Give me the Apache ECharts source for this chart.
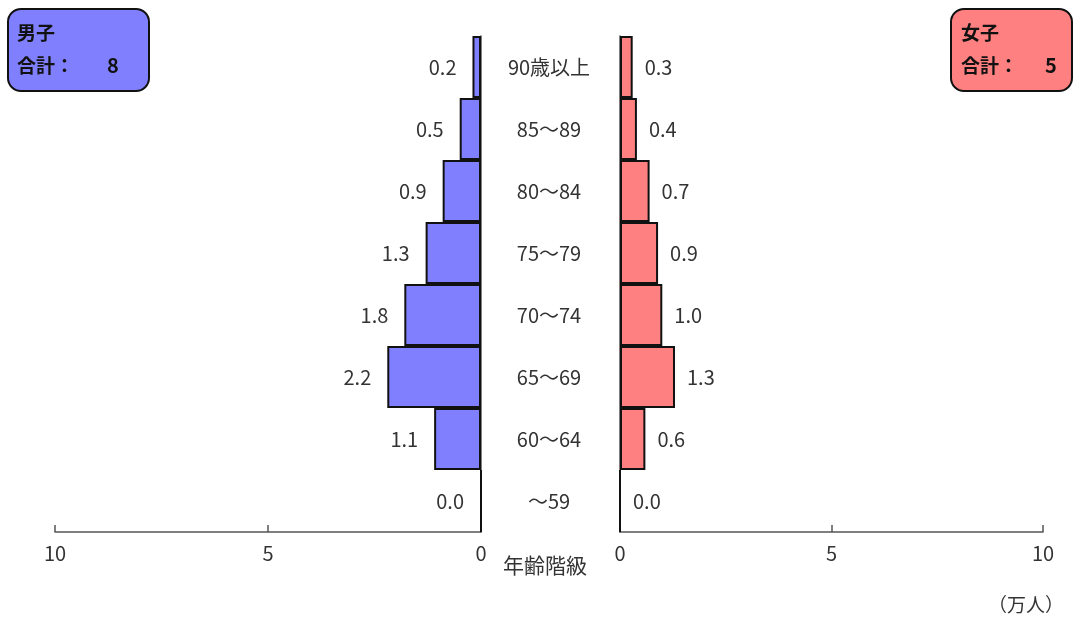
<!DOCTYPE html>
<html>
<head>
<meta charset="utf-8">
<script src="https://cdn.jsdelivr.net/npm/echarts@6/dist/echarts.min.js"></script>
<style>html,body{margin:0;padding:0;background:#fff}#c{width:1083px;height:618px}</style>
</head>
<body>
<div id="c"></div>
<script>
const categories = ['～59','60～64','65～69','70～74','75～79','80～84','85～89','90歳以上'];
const maleValues = [0.0, 1.1, 2.2, 1.8, 1.3, 0.9, 0.5, 0.2];
const femaleValues = [0.0, 0.6, 1.3, 1.0, 0.9, 0.7, 0.4, 0.3];
const xTicks = [0, 5, 10];
const maleTotal = 8;
const femaleTotal = 5;

const FONT = '"Noto Sans CJK JP", "Noto Sans", sans-serif';
const chart = echarts.init(document.getElementById('c'));

const xAxisCommon = {
  type: 'value', min: xTicks[0], max: xTicks[xTicks.length-1], interval: xTicks[1]-xTicks[0],
  splitLine: {show: false},
  axisLine: {show: true, lineStyle: {color: '#555', width: 1.5}},
  axisTick: {show: true, inside: true, length: 7, lineStyle: {color: '#555', width: 1.5}},
  axisLabel: {color: '#333', fontSize: 20, fontFamily: FONT, margin: 11}
};

chart.setOption({
  animation: false,
  grid: [
    {left: 55, right: 602, top: 36, bottom: 86},
    {left: 620, right: 40, top: 36, bottom: 86}
  ],
  xAxis: [
    Object.assign({gridIndex: 0, inverse: true}, xAxisCommon),
    Object.assign({gridIndex: 1}, xAxisCommon)
  ],
  yAxis: [
    {type: 'category', gridIndex: 0, data: categories, position: 'right',
     axisLine: {show: true, lineStyle: {color: '#555', width: 1.5}},
     axisTick: {show: false},
     axisLabel: {show: true, align: 'center', margin: 68, color: '#333', fontSize: 20, fontFamily: FONT}},
    {type: 'category', gridIndex: 1, data: categories, position: 'left',
     axisLine: {show: true, lineStyle: {color: '#555', width: 1.5}},
     axisTick: {show: false}, axisLabel: {show: false}}
  ],
  series: [
    {type: 'bar', xAxisIndex: 0, yAxisIndex: 0, data: maleValues, barCategoryGap: '0%',
     itemStyle: {color: '#8080FF', borderColor: '#111', borderWidth: 2},
     label: {show: true, position: 'left', distance: 16, color: '#333', fontSize: 20, fontFamily: FONT,
             formatter: p => p.value.toFixed(1)}},
    {type: 'bar', xAxisIndex: 1, yAxisIndex: 1, data: femaleValues, barCategoryGap: '0%',
     itemStyle: {color: '#FF8080', borderColor: '#111', borderWidth: 2},
     label: {show: true, position: 'right', distance: 12, color: '#333', fontSize: 20, fontFamily: FONT,
             formatter: p => p.value.toFixed(1)}}
  ],
  graphic: [
    {type: 'rect', shape: {x: 8, y: 9, width: 141, height: 82, r: 13},
     style: {fill: '#8080FF', stroke: '#111', lineWidth: 2}},
    {type: 'text', left: 17, top: 23, style: {text: '男子', font: 'bold 19px ' + FONT, fill: '#111'}},
    {type: 'text', left: 17, top: 56, style: {text: '合計：', font: 'bold 19px ' + FONT, fill: '#111'}},
    {type: 'text', left: 107, top: 55, style: {text: String(maleTotal), font: 'bold 20px ' + FONT, fill: '#111'}},
    {type: 'rect', shape: {x: 951, y: 9, width: 121, height: 82, r: 13},
     style: {fill: '#FF8080', stroke: '#111', lineWidth: 2}},
    {type: 'text', left: 961, top: 23, style: {text: '女子', font: 'bold 19px ' + FONT, fill: '#111'}},
    {type: 'text', left: 961, top: 56, style: {text: '合計：', font: 'bold 19px ' + FONT, fill: '#111'}},
    {type: 'text', left: 1045, top: 55, style: {text: String(femaleTotal), font: 'bold 20px ' + FONT, fill: '#111'}},
    {type: 'text', left: 503, top: 555, style: {text: '年齢階級', font: '21px ' + FONT, fill: '#333'}},
    {type: 'text', left: 988, top: 595, style: {text: '（万人）', font: '19px ' + FONT, fill: '#333'}}
  ]
});
</script>
</body>
</html>
